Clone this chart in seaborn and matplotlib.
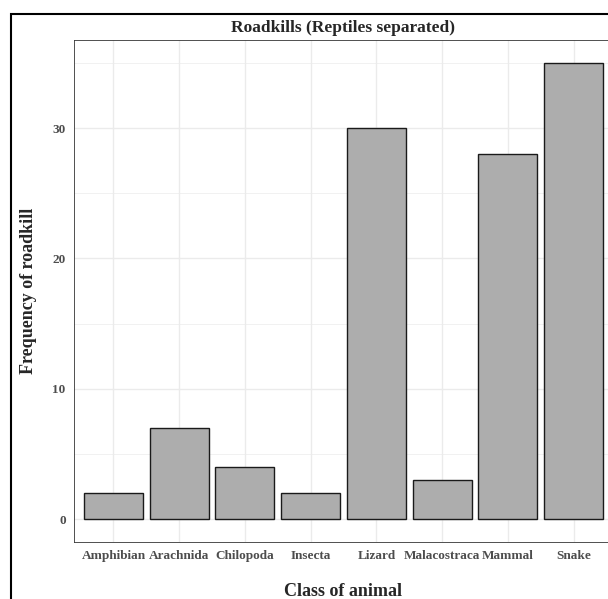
import matplotlib
matplotlib.use("Agg")
import matplotlib.pyplot as plt
import seaborn as sns
from matplotlib.patches import Rectangle
from matplotlib.ticker import MultipleLocator

classes = ["Amphibian", "Arachnida", "Chilopoda", "Insecta", "Lizard",
           "Malacostraca", "Mammal", "Snake"]
counts = [2, 7, 4, 2, 30, 3, 28, 35]

sns.set_style("white")
plt.rcParams["font.family"] = ["Liberation Serif", "DejaVu Serif"]
plt.rcParams["font.weight"] = "bold"

W, H = 608, 599
fig = plt.figure(figsize=(W / 100, H / 100), dpi=100)
# panel runs off the right edge like the original crop
ax = fig.add_axes([74 / W, 57 / H, (613 - 74) / W, (542 - 40) / H])

sns.barplot(x=classes, y=counts, color="#ADADAD", saturation=1,
            edgecolor="#1a1a1a", linewidth=1.0, width=0.9, ax=ax)

ax.set_xlim(-0.6, len(classes) - 0.4)
ax.set_ylim(-1.75, 36.75)
ax.yaxis.set_major_locator(MultipleLocator(10))
ax.yaxis.set_minor_locator(MultipleLocator(5))

ax.set_axisbelow(True)
ax.grid(True, which="major", color="#EBEBEB", linewidth=1.0)
ax.grid(True, which="minor", axis="y", color="#EBEBEB", linewidth=0.5)
for s in ax.spines.values():
    s.set_color("#333333")
    s.set_linewidth(0.6)

ax.tick_params(axis="both", which="major", length=3, width=0.6, color="#333333",
               labelcolor="#4D4D4D", labelsize=9.5, pad=3)
ax.tick_params(axis="y", which="minor", length=0)
for lab in ax.get_xticklabels() + ax.get_yticklabels():
    lab.set_fontweight("bold")

ax.set_xlabel("Class of animal", fontsize=13, fontweight="bold", labelpad=15)
ax.set_ylabel("Frequency of roadkill", fontsize=13, fontweight="bold", labelpad=11)
fig.text(343 / W, 1 - 28 / H, "Roadkills (Reptiles separated)", ha="center",
         va="center", fontsize=12.5, fontweight="bold")

# outer plot background border
fig.add_artist(Rectangle((11 / W, -0.1), 1.2, (H - 14) / H + 0.1,
                         transform=fig.transFigure, fill=False,
                         edgecolor="black", linewidth=1.5))

plt.savefig("out.png", dpi=100)
plt.close()
